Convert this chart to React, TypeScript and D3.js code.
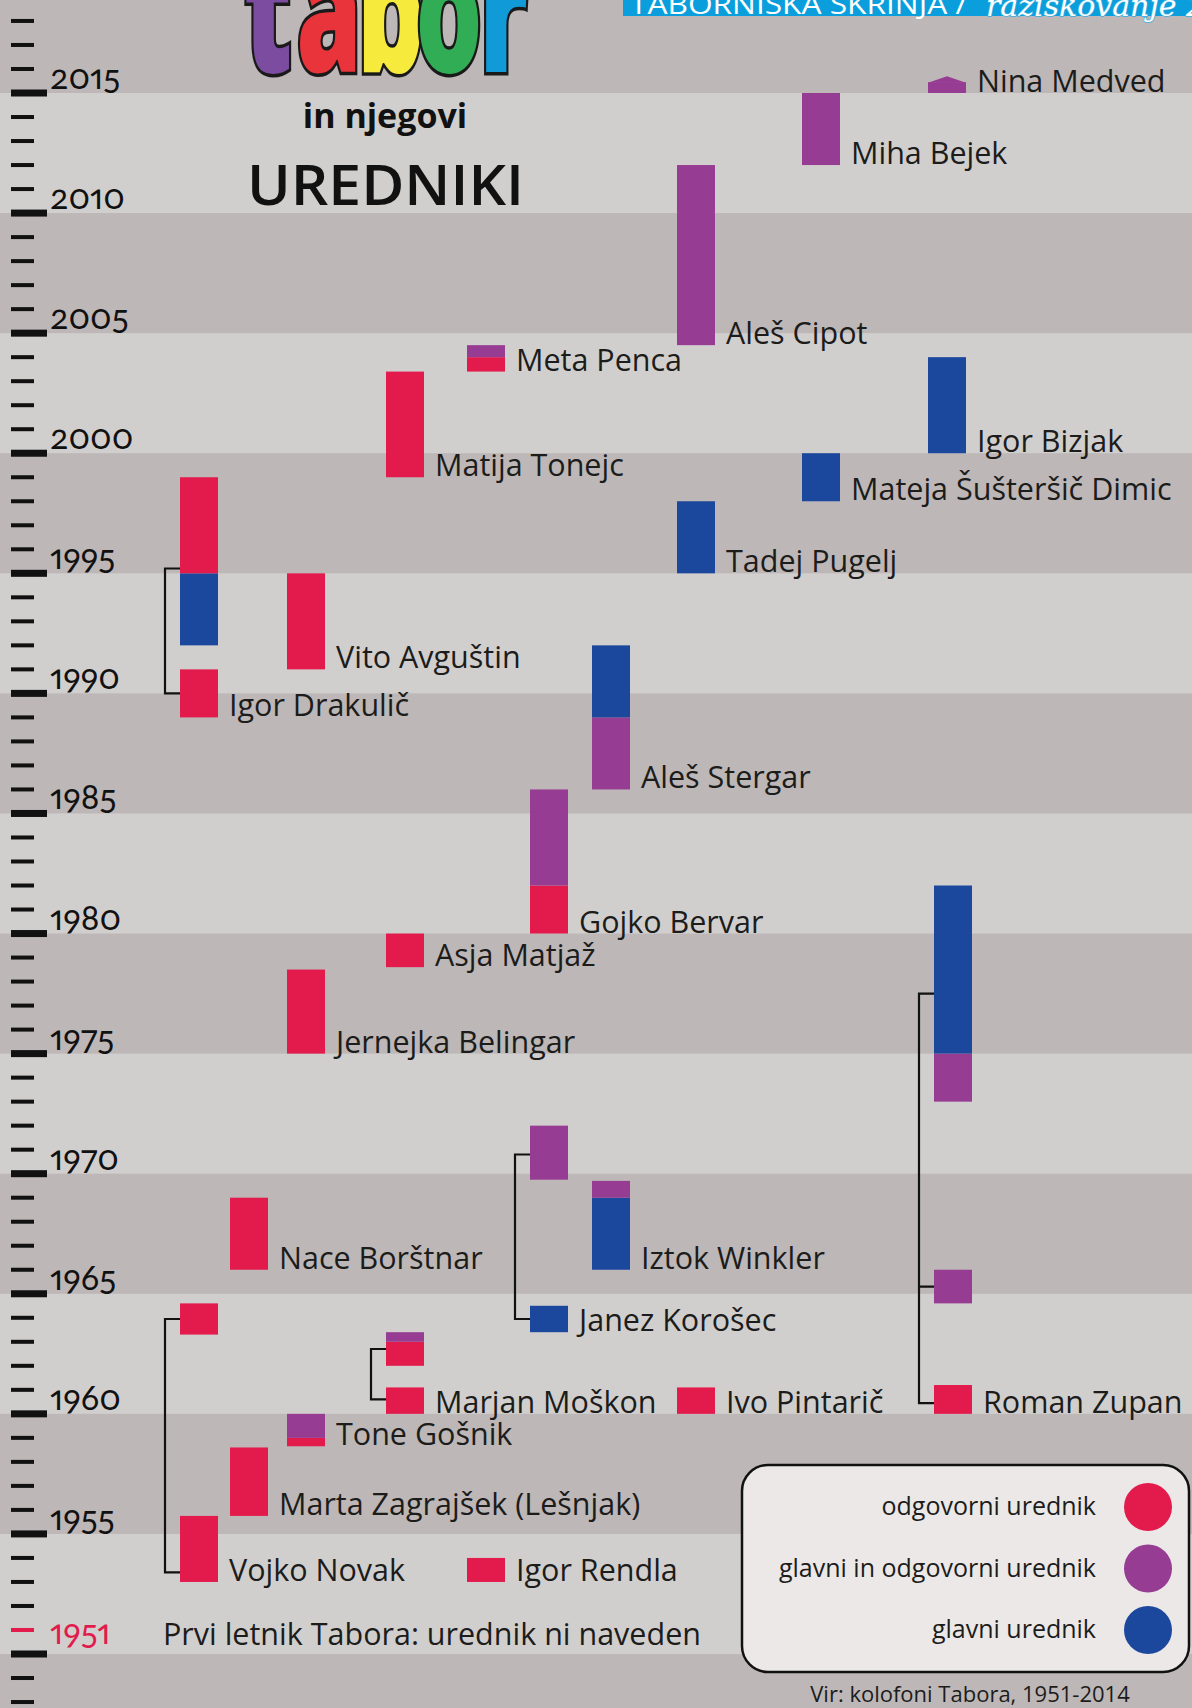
import React, { useEffect, useRef } from 'react';
import * as d3 from 'd3';

const W = 1192;
const H = 1708;

// roles: o = odgovorni, go = glavni in odgovorni, g = glavni
const roles = ['o', 'go', 'g'];
const roleLabels = ['odgovorni urednik', 'glavni in odgovorni urednik', 'glavni urednik'];
const roleColors = ['#e31b4c', '#973c93', '#1b479d'];

// columns used in the drawing (left to right)
const columns = ['A', 'B', 'C', 'D', 'E', 'F', 'G', 'H', 'I', 'J', 'K'];

const editorNames = [
    'Nina Medved', 'Miha Bejek', 'Aleš Cipot', 'Meta Penca', 'Igor Bizjak', 'Matija Tonejc',
    'Mateja Šušteršič Dimic', 'Tadej Pugelj', 'Igor Drakulič', 'Vito Avguštin', 'Aleš Stergar',
    'Gojko Bervar', 'Asja Matjaž', 'Jernejka Belingar', 'Nace Borštnar', 'Iztok Winkler',
    'Janez Korošec', 'Marjan Moškon', 'Ivo Pintarič', 'Roman Zupan', 'Tone Gošnik',
    'Marta Zagrajšek (Lešnjak)', 'Vojko Novak', 'Igor Rendla'
];
const editorColumns = [
    'J', 'I', 'H', 'E', 'J', 'D',
    'I', 'H', 'A', 'C', 'G',
    'F', 'D', 'C', 'B', 'G',
    'F', 'D', 'H', 'K', 'C',
    'B', 'A', 'E'
];

// [name, role, from year, to year]
const stints: [string, string, number, number][] = [
    ['Nina Medved', 'go', 2015, 2015.45],
    ['Miha Bejek', 'go', 2012, 2015],
    ['Aleš Cipot', 'go', 2004.5, 2012],
    ['Meta Penca', 'o', 2003.4, 2004],
    ['Meta Penca', 'go', 2004, 2004.5],
    ['Igor Bizjak', 'g', 2000, 2004],
    ['Matija Tonejc', 'o', 1999, 2003.4],
    ['Mateja Šušteršič Dimic', 'g', 1998, 2000],
    ['Tadej Pugelj', 'g', 1995, 1998],
    ['Igor Drakulič', 'o', 1989, 1991],
    ['Igor Drakulič', 'g', 1992, 1995],
    ['Igor Drakulič', 'o', 1995, 1999],
    ['Vito Avguštin', 'o', 1991, 1995],
    ['Aleš Stergar', 'go', 1986, 1989],
    ['Aleš Stergar', 'g', 1989, 1992],
    ['Gojko Bervar', 'o', 1980, 1982],
    ['Gojko Bervar', 'go', 1982, 1986],
    ['Asja Matjaž', 'o', 1978.6, 1980],
    ['Jernejka Belingar', 'o', 1975, 1978.5],
    ['Nace Borštnar', 'o', 1966, 1969],
    ['Iztok Winkler', 'g', 1966, 1969],
    ['Iztok Winkler', 'go', 1969, 1969.7],
    ['Janez Korošec', 'g', 1963.4, 1964.5],
    ['Janez Korošec', 'go', 1969.75, 1972],
    ['Marjan Moškon', 'o', 1960, 1961.1],
    ['Marjan Moškon', 'o', 1962, 1963],
    ['Marjan Moškon', 'go', 1963, 1963.4],
    ['Ivo Pintarič', 'o', 1960, 1961.1],
    ['Roman Zupan', 'o', 1960, 1961.2],
    ['Roman Zupan', 'go', 1964.6, 1966],
    ['Roman Zupan', 'go', 1973, 1975],
    ['Roman Zupan', 'g', 1975, 1982],
    ['Tone Gošnik', 'o', 1958.65, 1959],
    ['Tone Gošnik', 'go', 1959, 1960],
    ['Marta Zagrajšek (Lešnjak)', 'o', 1955.75, 1958.6],
    ['Vojko Novak', 'o', 1953, 1955.75],
    ['Vojko Novak', 'o', 1963.3, 1964.6],
    ['Igor Rendla', 'o', 1953, 1954]
];

// still in office (drawn with a pointed top)
const ongoing = ['Nina Medved'];
const ongoingTip = [2015.7];

// brackets joining stints of the same person: [name, anchor years]
const brackets: [string, number[]][] = [
    ['Igor Drakulič', [1995.2, 1990]],
    ['Janez Korošec', [1970.8, 1963.95]],
    ['Marjan Moškon', [1962.7, 1960.6]],
    ['Roman Zupan', [1977.5, 1965.3, 1960.45]],
    ['Vojko Novak', [1963.95, 1953.4]]
];

const lightBands = [1950, 1960, 1970, 1980, 1990, 2000, 2010];
const yearLabels = [1955, 1960, 1965, 1970, 1975, 1980, 1985, 1990, 1995, 2000, 2005, 2010, 2015];
const firstYear = 1951;
const firstYearNote = 'Prvi letnik Tabora: urednik ni naveden';
const source = 'Vir: kolofoni Tabora, 1951-2014';

const logoLetters = ['t', 'a', 'b', 'o', 'r'];
const logoColors = ['#7b4c9f', '#e8343a', '#f6ea3c', '#31ad55', '#109bd8'];

const FONT = '"Open Sans", "DejaVu Sans", sans-serif';
const NUMFONT = 'Lato, "Open Sans", sans-serif';
const INK = '#1c1c1b';

const App = () => {
    const ref = useRef<SVGSVGElement>(null);

    useEffect(() => {
        drawChart();
    }, []);

    const drawChart = () => {
        const svg = d3.select(ref.current);
        svg.selectAll('*').remove();

        const y = d3.scaleLinear().domain([1950, 2015]).range([1654, 93]);
        const x = d3.scaleOrdinal<string, number>()
            .domain(columns)
            .range([180, 230, 287, 386, 467, 530, 592, 677, 802, 928, 934]);
        const barW = 38;
        const color = d3.scaleOrdinal<string, string>().domain(roles).range(roleColors);
        const colOf = new Map(editorNames.map((n, i) => [n, editorColumns[i]]));

        // background bands
        svg.append('rect').attr('width', W).attr('height', H).attr('fill', '#bdb7b7');
        svg.selectAll('.band')
            .data(lightBands)
            .enter().append('rect')
            .attr('x', 0)
            .attr('width', W)
            .attr('y', d => y(d + 5))
            .attr('height', d => y(d) - y(d + 5))
            .attr('fill', '#d1cfce');

        // year ticks on the left edge
        const ticks = d3.range(1948, 2019);
        svg.selectAll('.tick')
            .data(ticks)
            .enter().append('rect')
            .attr('x', 11)
            .attr('width', d => (d % 5 === 0 ? 36 : 23))
            .attr('y', d => y(d) - (d % 5 === 0 ? 3.5 : 2))
            .attr('height', d => (d % 5 === 0 ? 7 : 4))
            .attr('fill', d => (d === firstYear ? roleColors[0] : '#111'));

        svg.selectAll('.year')
            .data(yearLabels)
            .enter().append('text')
            .attr('x', 50)
            .attr('y', d => y(d) - 4)
            .attr('font-family', NUMFONT)
            .attr('font-size', 34)
            .style('font-variant-numeric', 'oldstyle-nums proportional-nums')
            .style('font-feature-settings', '"onum" 1, "pnum" 1')
            .attr('fill', '#111')
            .text(d => d);

        svg.append('text')
            .attr('x', 50)
            .attr('y', y(firstYear) + 14)
            .attr('font-family', NUMFONT)
            .attr('font-size', 34)
            .style('font-variant-numeric', 'oldstyle-nums proportional-nums')
            .style('font-feature-settings', '"onum" 1, "pnum" 1')
            .attr('fill', roleColors[0])
            .text(firstYear);

        svg.append('text')
            .attr('x', 163)
            .attr('y', y(firstYear) + 15)
            .attr('font-family', FONT)
            .attr('font-size', 30.5)
            .attr('fill', INK)
            .text(firstYearNote);

        // brackets
        svg.selectAll('.bracket')
            .data(brackets)
            .enter().append('path')
            .attr('fill', 'none')
            .attr('stroke', '#111')
            .attr('stroke-width', 2.2)
            .attr('d', ([name, years]) => {
                const bx = x(colOf.get(name)!);
                const lx = bx - 15;
                const ys = years.map(v => y(v));
                let p = `M${bx},${ys[0]}H${lx}V${ys[ys.length - 1]}H${bx}`;
                ys.slice(1, -1).forEach(v => { p += `M${lx},${v}H${bx}`; });
                return p;
            });

        // stints
        svg.selectAll('.stint')
            .data(stints)
            .enter().append('rect')
            .attr('x', d => x(colOf.get(d[0])!))
            .attr('width', barW)
            .attr('y', d => y(d[3]))
            .attr('height', d => y(d[2]) - y(d[3]))
            .attr('fill', d => color(d[1]));

        // pointed tops for editors still in office
        svg.selectAll('.tip')
            .data(ongoing)
            .enter().append('path')
            .attr('fill', roleColors[1])
            .attr('d', (name, i) => {
                const top = d3.max(stints.filter(s => s[0] === name), s => s[3])!;
                const bx = x(colOf.get(name)!);
                return `M${bx},${y(top) + 0.5}L${bx + barW / 2},${y(ongoingTip[i])}L${bx + barW},${y(top) + 0.5}Z`;
            });

        // name labels next to the earliest stint
        svg.selectAll('.name')
            .data(editorNames)
            .enter().append('text')
            .attr('x', d => x(colOf.get(d)!) + barW + 11)
            .attr('y', d => y(d3.min(stints.filter(s => s[0] === d), s => s[2])!) - 1)
            .attr('font-family', FONT)
            .attr('font-size', 30.5)
            .attr('fill', INK)
            .text(d => d);

        // legend
        const lg = svg.append('g');
        lg.append('rect')
            .attr('x', 742).attr('y', 1465)
            .attr('width', 447).attr('height', 207)
            .attr('rx', 26)
            .attr('fill', '#ebe8e7')
            .attr('stroke', '#111')
            .attr('stroke-width', 2.5);
        const items = lg.selectAll('.item')
            .data(roles)
            .enter().append('g')
            .attr('transform', (d, i) => `translate(0,${1507 + i * 61.5})`);
        items.append('circle')
            .attr('cx', 1148)
            .attr('r', 24)
            .attr('fill', d => color(d));
        items.append('text')
            .attr('x', 1096)
            .attr('y', 8)
            .attr('text-anchor', 'end')
            .attr('font-family', FONT)
            .attr('font-size', 25)
            .attr('fill', INK)
            .text((d, i) => roleLabels[i]);

        svg.append('text')
            .attr('x', 970)
            .attr('y', 1702)
            .attr('text-anchor', 'middle')
            .attr('font-family', FONT)
            .attr('font-size', 22)
            .attr('fill', INK)
            .text(source);

        // title
        const logoX = [268, 329, 391, 449, 504];
        svg.selectAll('.logo')
            .data(logoLetters)
            .enter().append('text')
            .attr('transform', (d, i) => `translate(${logoX[i]},72) scale(0.62,1)`)
            .attr('text-anchor', 'middle')
            .attr('font-family', FONT)
            .attr('font-weight', 800)
            .attr('font-size', 170)
            .attr('fill', (d, i) => logoColors[i])
            .attr('stroke', '#1a1a1a')
            .attr('stroke-width', 7)
            .style('paint-order', 'stroke')
            .text(d => d);

        svg.append('text')
            .attr('x', 385)
            .attr('y', 128)
            .attr('text-anchor', 'middle')
            .attr('font-family', FONT)
            .attr('font-weight', 700)
            .attr('font-size', 34)
            .attr('fill', '#111')
            .text('in njegovi');

        svg.append('text')
            .attr('x', 247)
            .attr('y', 205)
            .attr('font-family', FONT)
            .attr('font-weight', 600)
            .attr('font-size', 56)
            .attr('textLength', 277)
            .attr('lengthAdjust', 'spacingAndGlyphs')
            .attr('fill', '#111')
            .text('UREDNIKI');

        // header strip, cut off at the top
        svg.append('rect')
            .attr('x', 623).attr('y', 0)
            .attr('width', W - 623).attr('height', 16)
            .attr('fill', '#0a9fdc');
        svg.append('text')
            .attr('x', 630)
            .attr('y', 14)
            .attr('font-family', FONT)
            .attr('font-size', 28)
            .attr('textLength', 337)
            .attr('lengthAdjust', 'spacingAndGlyphs')
            .attr('fill', '#fff')
            .text('TABORNIŠKA SKRINJA /');
        svg.append('text')
            .attr('x', 986)
            .attr('y', 16)
            .attr('font-family', '"DejaVu Serif", serif')
            .attr('font-style', 'italic')
            .attr('font-size', 30)
            .attr('fill', '#fff')
            .attr('stroke', '#3aaee0')
            .attr('stroke-width', 1.5)
            .style('paint-order', 'stroke')
            .text('raziskovanje 2');
    };

    return (
        <svg
            ref={ref}
            width={W}
            height={H}
            style={{ position: 'absolute', left: 0, top: 0, display: 'block' }}
        />
    );
};

export default App;
